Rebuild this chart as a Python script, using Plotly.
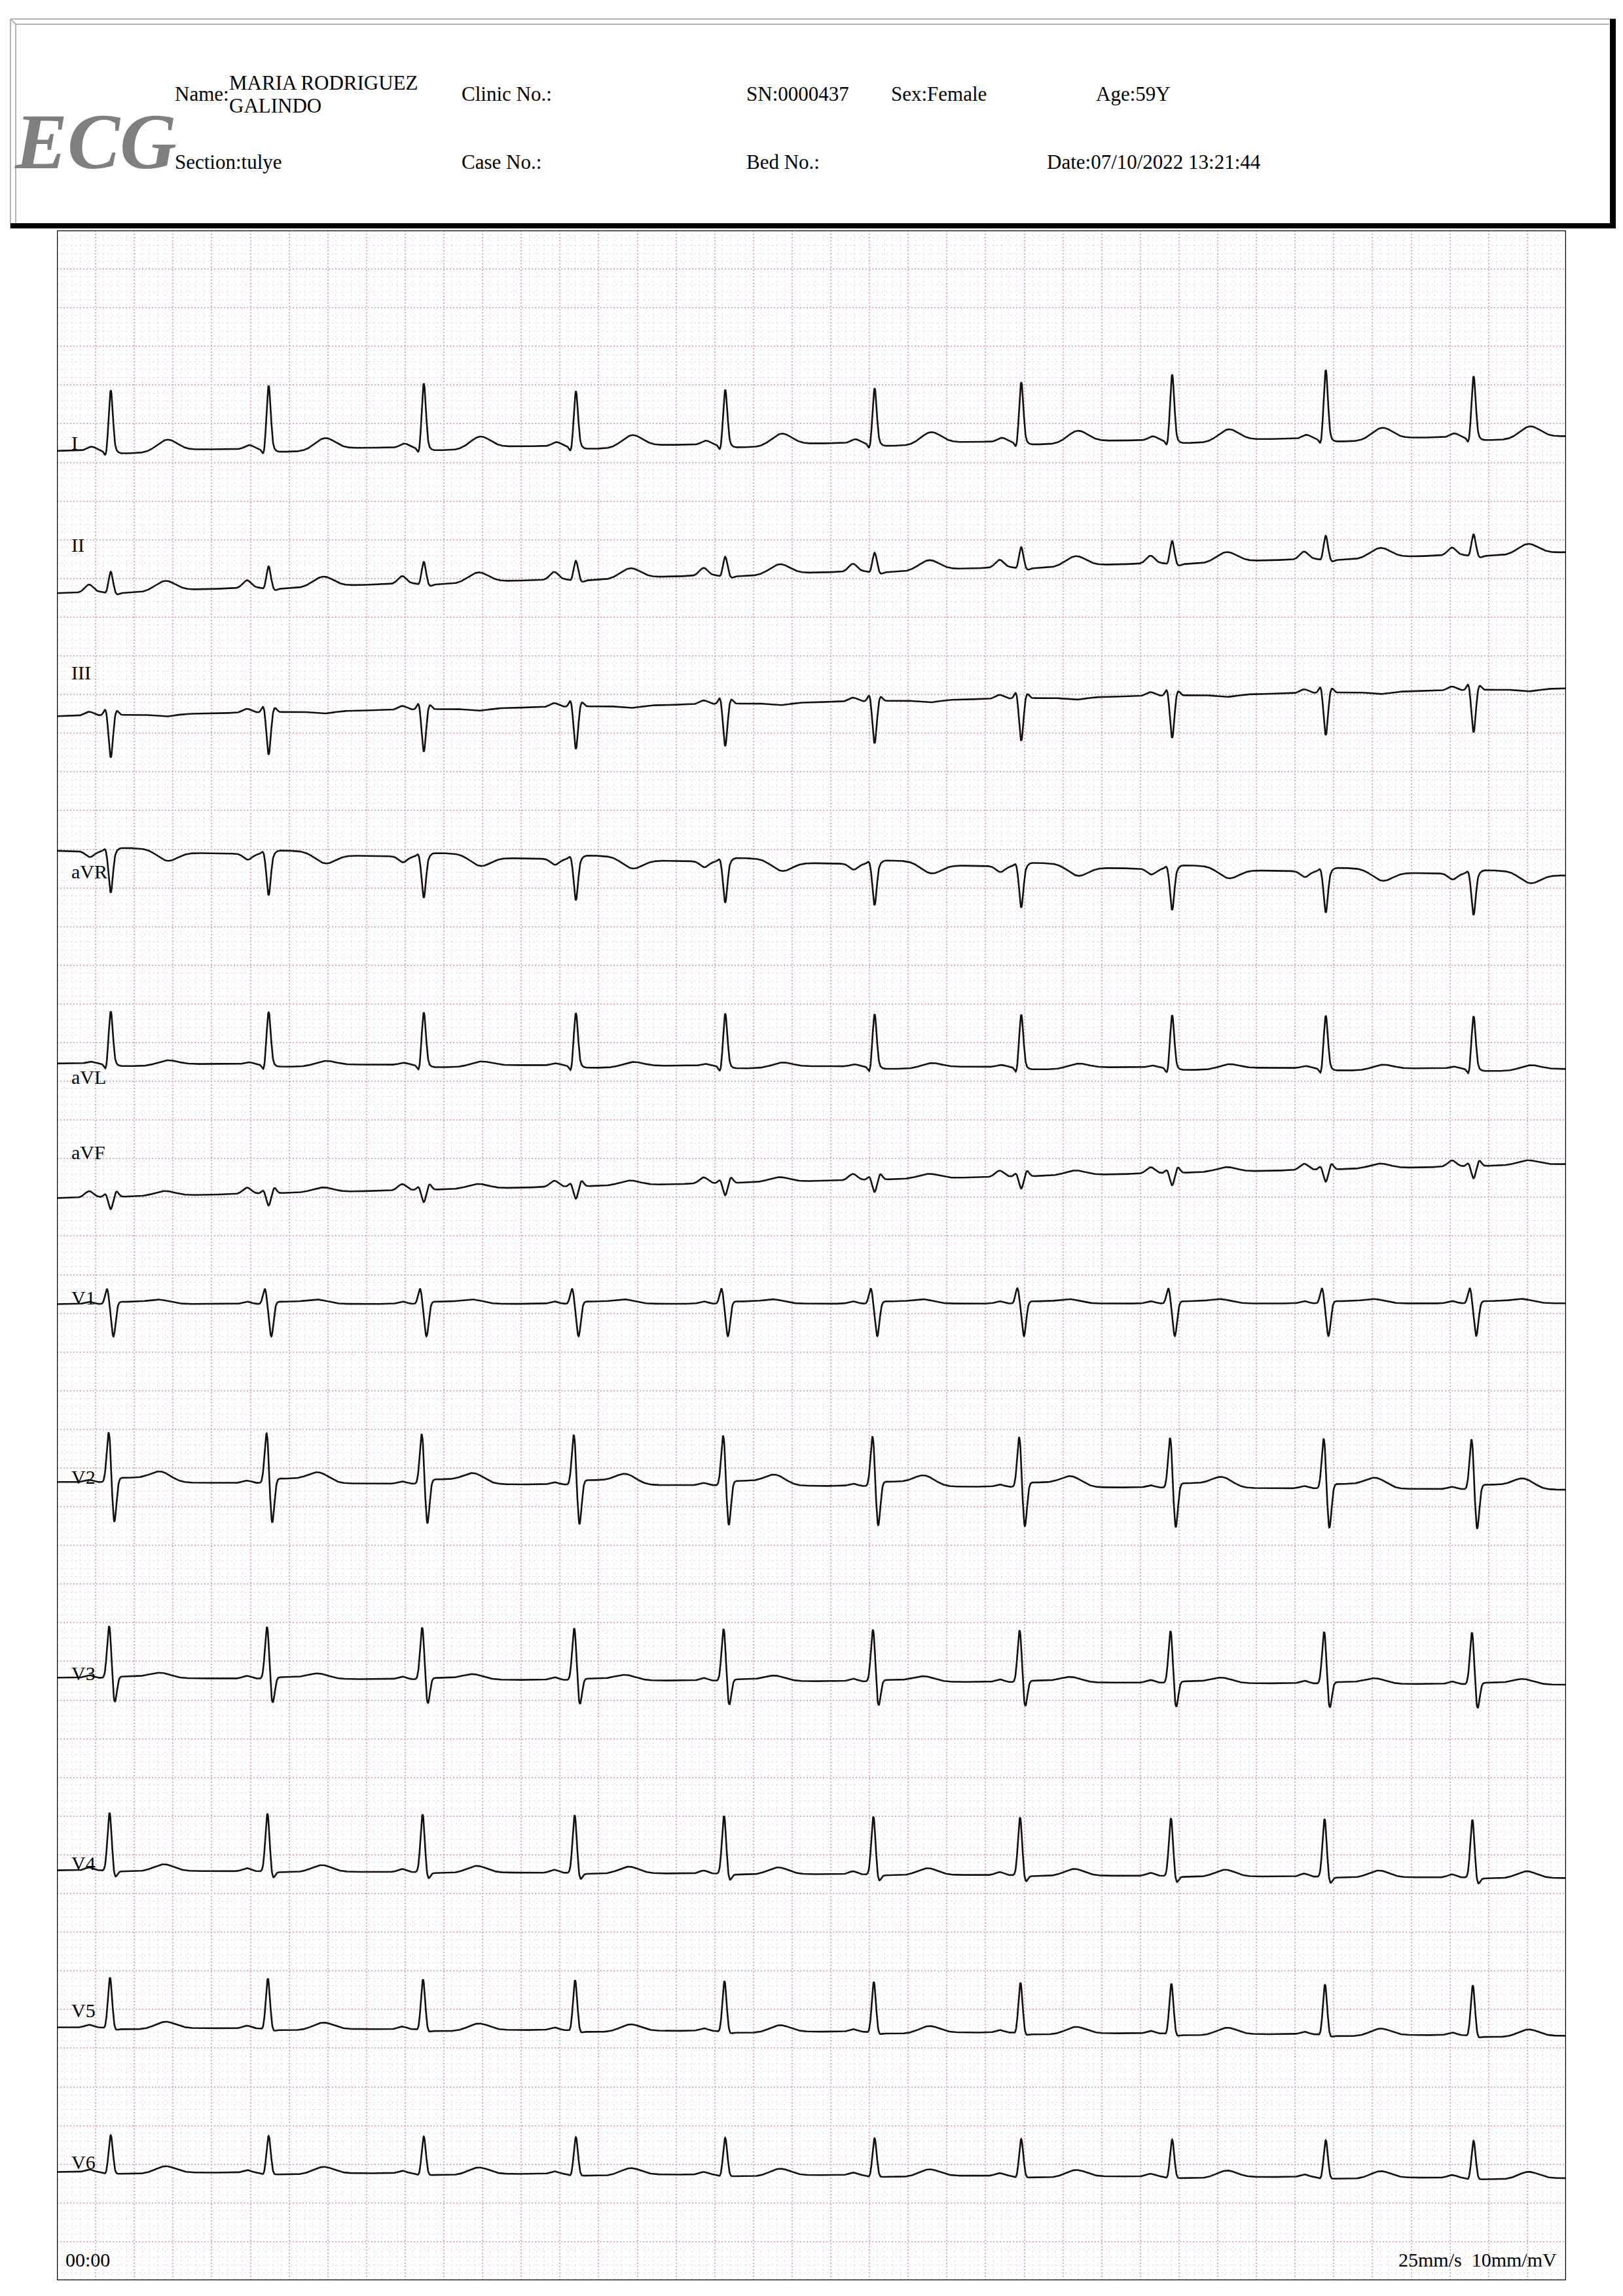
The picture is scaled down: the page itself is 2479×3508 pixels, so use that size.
import numpy as np
import plotly.graph_objects as go

# ---------------- page geometry (px) ----------------
W, H = 2479, 3508
BOX_L, BOX_R, BOX_T, BOX_B = 87, 2392, 352, 3484
X_MM, Y_MM = 195, 265          # grid size in mm (25 mm/s, 10 mm/mV)

# ---------------- data ----------------
LEADS = ["I", "II", "III", "aVR", "aVL", "aVF", "V1", "V2", "V3", "V4", "V5", "V6"]
# R-wave times of the ten beats (mm from left edge of grid)
BEAT_MM = [6.95, 27.35, 47.4, 67.05, 86.35, 105.65, 124.6, 144.1, 163.95, 183.05]
# per-beat R height of lead I (mm) – respiratory variation
R_BEAT_I = [7.8, 8.2, 8.3, 7.1, 7.1, 7.1, 7.7, 8.5, 8.9, 7.9]
# isoelectric line at start / end of strip (mm from top of grid)
BASE_START = [28.5, 46.9, 62.8, 80.2, 107.7, 125.1, 138.8, 161.8, 187.1, 212.0, 232.3, 251.0]
BASE_END = [26.6, 41.6, 59.2, 83.4, 108.4, 120.7, 138.7, 162.8, 188.0, 213.0, 233.4, 251.8]
# lead label baseline (mm from top)
LABEL_Y = [28.3, 41.5, 58.0, 83.7, 110.3, 120.0, 138.8, 162.0, 187.4, 211.9, 231.0, 250.6]
# wave amplitudes (mm, + = up) and offsets from the beat time (mm)
P_AMP = [0.5, 1.0, 0.5, -0.75, 0.25, 0.8, 0.3, 0.3, 0.35, 0.4, 0.35, 0.35]
P_OFF = [-2.5, -2.8, -2.8, -2.7, -2.6, -2.8, -2.8, -2.8, -2.8, -2.8, -2.8, -2.8]
Q_AMP = [-0.9, -0.2, 0.9, 0.4, -0.9, 0.4, 2.0, 0.0, 0.0, 0.0, -0.2, -0.3]
Q_OFF = [-0.6, -0.6, -0.65, -0.7, -0.6, -0.7, -0.5, -0.6, -0.6, -0.6, -0.6, -0.6]
R_AMP = [7.8, 2.6, -5.5, -5.3, 6.8, -1.6, 0.0, 6.6, 6.8, 7.5, 6.5, 4.8]
R_OFF = [0.0, 0.0, 0.0, 0.0, 0.0, 0.0, 0.0, -0.25, -0.2, -0.15, -0.1, 0.0]
S_AMP = [0.0, -0.3, 0.6, 0.0, 0.0, 0.7, -4.2, -5.3, -3.3, -0.9, -0.3, -0.2]
S_OFF = [0.7, 0.8, 0.75, 0.7, 0.7, 0.75, 0.35, 0.45, 0.5, 0.55, 0.6, 0.6]
ST_AMP = [-0.4, -0.2, 0.0, 0.5, -0.3, 0.0, 0.3, 0.6, 0.2, -0.1, -0.2, -0.2]
T_AMP = [1.5, 1.3, -0.3, -1.3, 0.6, 0.6, 0.4, 1.1, 0.6, 0.9, 0.9, 0.9]
T_OFF = [7.2, 7.0, 7.0, 7.2, 7.2, 7.0, 6.5, 6.6, 6.5, 6.8, 7.0, 7.0]

HEADER_TOP = [("Name:", 265, 154), ("MARIA RODRIGUEZ", 348, 137), ("GALINDO", 348, 172),
              ("Clinic No.:", 703, 154), ("SN:0000437", 1138, 154),
              ("Sex:Female", 1359, 154), ("Age:59Y", 1672, 154)]
HEADER_BOT = [("Section:tulye", 265, 258), ("Case No.:", 703, 258),
              ("Bed No.:", 1138, 258), ("Date:07/10/2022 13:21:44", 1597, 258)]
FOOT_LEFT = "00:00"
FOOT_RIGHT = "25mm/s\u00a0 10mm/mV"

FONT = "Liberation Serif"


def px(x):
    return x / W


def py(y):
    return 1 - y / H


def g(x, s):
    return np.exp(-0.5 * (x / s) ** 2)


def sig(x):
    return 1.0 / (1.0 + np.exp(-x))


t = np.arange(0, X_MM + 0.001, 0.05)

fig = go.Figure()
for k, name in enumerate(LEADS):
    s = np.zeros_like(t)
    for b, tb in enumerate(BEAT_MM):
        r = R_AMP[k]
        if name == "I":
            r = R_BEAT_I[b]
        elif name == "II":
            r = R_AMP[k] * R_BEAT_I[b] / R_BEAT_I[0]
        s += P_AMP[k] * g(t - (tb + P_OFF[k]), 0.55)
        s += Q_AMP[k] * g(t - (tb + Q_OFF[k]), 0.24)
        s += r * g(t - (tb + R_OFF[k]), 0.27)
        s += S_AMP[k] * g(t - (tb + S_OFF[k]), 0.27)
        s += ST_AMP[k] * (sig((t - tb - 0.9) / 0.15) - sig((t - tb - T_OFF[k]) / 0.7))
        s += T_AMP[k] * g(t - (tb + T_OFF[k]), 1.3)
    base = BASE_START[k] + (BASE_END[k] - BASE_START[k]) * t / X_MM
    fig.add_trace(go.Scatter(x=t, y=base - s, mode="lines",
                             line=dict(color="#111111", width=2.6),
                             showlegend=False, hoverinfo="skip"))

annotations = []
for k, name in enumerate(LEADS):
    annotations.append(dict(x=1.7, y=LABEL_Y[k] - 0.34 * 30 / 11.82, xref="x", yref="y",
                            text=name, showarrow=False, xanchor="left", yanchor="middle",
                            font=dict(family=FONT, size=30, color="#000")))

for txt, x0, yb in HEADER_TOP + HEADER_BOT:
    annotations.append(dict(x=px(x0), y=py(yb - 0.34 * 31), xref="paper", yref="paper",
                            text=txt, showarrow=False, xanchor="left", yanchor="middle",
                            font=dict(family=FONT, size=31, color="#000")))
annotations.append(dict(x=px(20), y=py(258 - 0.34 * 122), xref="paper", yref="paper",
                        text="<b><i>ECG</i></b>", showarrow=False, xanchor="left", yanchor="middle",
                        font=dict(family=FONT, size=120, color="#7f7f7f")))
annotations.append(dict(x=px(98), y=py(3463 - 0.34 * 30), xref="paper", yref="paper",
                        text=FOOT_LEFT, showarrow=False, xanchor="left", yanchor="middle",
                        font=dict(family=FONT, size=30, color="#000")))
annotations.append(dict(x=px(2380), y=py(3463 - 0.34 * 30), xref="paper", yref="paper",
                        text=FOOT_RIGHT, showarrow=False, xanchor="right", yanchor="middle",
                        font=dict(family=FONT, size=30, color="#000")))

GREY = "#b4b4b4"
shapes = [
    # header frame (bevelled)
    dict(type="line", xref="paper", yref="paper", x0=px(16), y0=py(29), x1=px(2468), y1=py(29),
         line=dict(color=GREY, width=2)),
    dict(type="line", xref="paper", yref="paper", x0=px(24), y0=py(37), x1=px(2458), y1=py(37),
         line=dict(color=GREY, width=2)),
    dict(type="line", xref="paper", yref="paper", x0=px(16), y0=py(29), x1=px(16), y1=py(349),
         line=dict(color=GREY, width=2)),
    dict(type="line", xref="paper", yref="paper", x0=px(24), y0=py(37), x1=px(24), y1=py(341),
         line=dict(color=GREY, width=2)),
    dict(type="line", xref="paper", yref="paper", x0=px(16), y0=py(29), x1=px(24), y1=py(37),
         line=dict(color=GREY, width=2)),
    dict(type="rect", xref="paper", yref="paper", x0=px(16), y0=py(341), x1=px(2468), y1=py(349),
         fillcolor="#000", line=dict(width=0)),
    dict(type="rect", xref="paper", yref="paper", x0=px(2459), y0=py(29), x1=px(2468), y1=py(349),
         fillcolor="#000", line=dict(width=0)),
    # grid border
    dict(type="rect", xref="x", yref="y", x0=0, y0=0, x1=X_MM, y1=Y_MM,
         line=dict(color="#000", width=2.5)),
]

MAJOR = "#dfaeb5"
MINOR = "#ded3d5"
axis_common = dict(showticklabels=False, ticks="", zeroline=False, showline=False,
                   showgrid=True, gridcolor=MAJOR, gridwidth=1.5, griddash="2px,3px",
                   tick0=0, dtick=5,
                   minor=dict(showgrid=True, tick0=0, dtick=1, gridcolor=MINOR,
                              gridwidth=1.2, griddash="2px,5px"),
                   fixedrange=True)

fig.update_layout(
    width=W, height=H,
    margin=dict(l=0, r=0, t=0, b=0),
    paper_bgcolor="white", plot_bgcolor="white",
    xaxis=dict(range=[0, X_MM], domain=[px(BOX_L), px(BOX_R)], **axis_common),
    yaxis=dict(range=[Y_MM, 0], domain=[py(BOX_B), py(BOX_T)], **axis_common),
    annotations=annotations, shapes=shapes,
)

fig.write_html("out.html", config={"displayModeBar": False},
               post_script="document.body.style.margin='0';document.body.style.padding='0';")
